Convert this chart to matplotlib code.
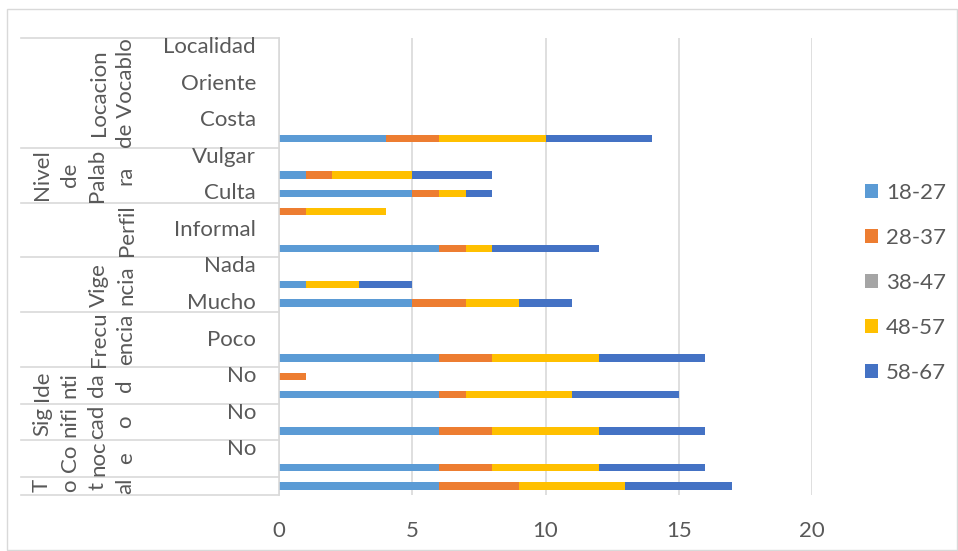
import matplotlib
matplotlib.use("Agg")
import matplotlib.pyplot as plt
from matplotlib.transforms import blended_transform_factory
from matplotlib.patches import Rectangle, Patch
import numpy as np

plt.rcParams['font.family'] = ['Lato', 'DejaVu Sans']

# Categories from bottom to top (Excel order); unreadable (skipped) labels left blank
leaf_labels = ["", "", "No", "", "No", "", "No", "", "Poco", "",
               "Mucho", "", "Nada", "", "Informal", "", "Culta", "", "Vulgar",
               "", "Costa", "", "Oriente", "", "Localidad"]
group_labels = ["T\no\nt\nal", "Co\nnoc\ne", "Sig\nnifi\ncad\no", "Ide\nnti\nda\nd",
                "Frecu\nencia", "Vige\nncia", "Perfil", "Nivel\nde\nPalab\nra",
                "Locacion\nde Vocablo"]
group_sizes = [1, 2, 2, 2, 3, 3, 3, 3, 6]

series_names = ["18-27", "28-37", "38-47", "48-57", "58-67"]
s18_27 = [6, 6, 0, 6, 0, 6, 0, 6, 0, 0, 5, 1, 0, 6, 0, 0, 5, 1, 0, 4, 0, 0, 0, 0, 0]
s28_37 = [3, 2, 0, 2, 0, 1, 1, 2, 0, 0, 2, 0, 0, 1, 0, 1, 1, 1, 0, 2, 0, 0, 0, 0, 0]
s38_47 = [0] * 25
s48_57 = [4, 4, 0, 4, 0, 4, 0, 4, 0, 0, 2, 2, 0, 1, 0, 3, 1, 3, 0, 4, 0, 0, 0, 0, 0]
s58_67 = [4, 4, 0, 4, 0, 4, 0, 4, 0, 0, 2, 2, 0, 4, 0, 0, 1, 3, 0, 4, 0, 0, 0, 0, 0]
series = [s18_27, s28_37, s38_47, s48_57, s58_67]
colors = ["#5B9BD5", "#ED7D31", "#A5A5A5", "#FFC000", "#4472C4"]

W, H = 958, 551
fig = plt.figure(figsize=(W / 100, H / 100), dpi=100)
txt = "#595959"
grid = "#D9D9D9"
fs = 16

# chart border
fig.patches.append(Rectangle((7 / W, 1 - 550 / H), 950 / W, 541 / H, transform=fig.transFigure,
                             fill=False, edgecolor=grid, linewidth=1))

ax = fig.add_axes([279 / W, 1 - 495 / H, (812 - 279) / W, (495 - 38) / H])
y = np.arange(len(leaf_labels))
left = np.zeros(len(y))
for vals, name, c in zip(series, series_names, colors):
    v = np.array(vals, dtype=float)
    ax.barh(y, v, left=left, height=0.4, color=c, label=name, linewidth=0)
    left += v

ax.set_xlim(0, 20)
ax.set_ylim(-0.5, len(y) - 0.5)
ax.set_xticks([0, 5, 10, 15, 20])
ax.tick_params(axis='x', length=0, pad=19, labelsize=fs, labelcolor=txt)
ax.set_yticks([])
ax.grid(axis='x', color=grid, linewidth=1.2)
ax.set_axisbelow(True)
for s in ["top", "right", "bottom"]:
    ax.spines[s].set_visible(False)
ax.spines["left"].set_color(grid)
ax.spines["left"].set_linewidth(1.2)

tr = blended_transform_factory(fig.transFigure, ax.transData)
# leaf labels
for i, lab in enumerate(leaf_labels):
    if lab:
        ax.text(256 / W, i, lab, transform=tr, ha='right', va='center',
                fontsize=fs, color=txt)

# group labels and separators
bounds = np.concatenate([[0], np.cumsum(group_sizes)]) - 0.5
for b in bounds:
    ax.plot([21 / W, 279 / W], [b, b], transform=tr, color=grid, linewidth=1.2, clip_on=False)
colD = 127
for g, lab in enumerate(group_labels):
    n = lab.count("\n") + 1
    cx = colD - (n - 1) / 2 * 29
    cy = (bounds[g] + bounds[g + 1]) / 2
    ax.text(cx / W, cy, lab, transform=tr, rotation=90, ha='center', va='center',
            multialignment='center', fontsize=fs, color=txt, linespacing=1.48)

handles = [Patch(facecolor=c, edgecolor='none') for c in colors]
fig.legend(handles, series_names, loc='center left', bbox_to_anchor=(865 / W, 1 - 283 / H),
           frameon=False, fontsize=fs, labelcolor=txt, handlelength=0.6, handleheight=0.6,
           handletextpad=0.35, labelspacing=1.12, borderaxespad=0, borderpad=0)

fig.savefig("out.png", dpi=100)
